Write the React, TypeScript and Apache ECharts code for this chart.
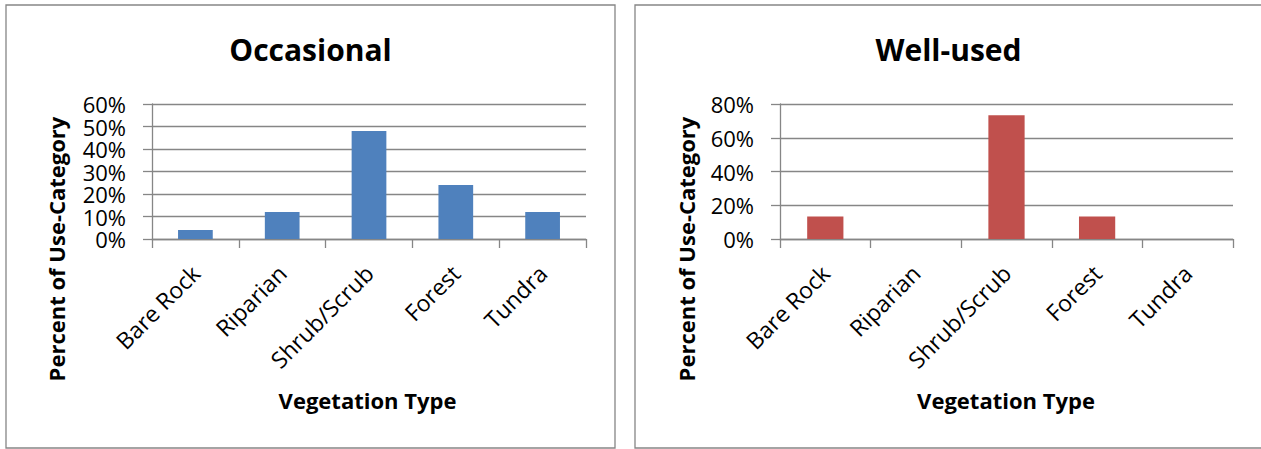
import React, { useEffect, useRef } from "react";
import * as echarts from "echarts";

const categories = ["Bare Rock", "Riparian", "Shrub/Scrub", "Forest", "Tundra"];
const occasionalValues = [4, 12, 48, 24, 12];
const wellUsedValues = [13.3, 0, 73.3, 13.3, 0];
const occasionalTicks = [0, 10, 20, 30, 40, 50, 60];
const wellUsedTicks = [0, 20, 40, 60, 80];
const chartTitles = ["Occasional", "Well-used"];
const xAxisTitle = "Vegetation Type";
const yAxisTitle = "Percent of Use-Category";

const FONT = "'Open Sans', Lato, sans-serif";
const GRAY = "#868686";

function yAxisFor(gridIndex: number, ticks: number[]) {
  return {
    type: "value",
    gridIndex,
    min: ticks[0],
    max: ticks[ticks.length - 1],
    interval: ticks[1] - ticks[0],
    axisLine: { show: true, lineStyle: { color: GRAY, width: 1.3 } },
    axisTick: { show: true, length: 9, lineStyle: { color: GRAY, width: 1.3 } },
    splitLine: { show: true, lineStyle: { color: GRAY, width: 1.3 } },
    axisLabel: {
      formatter: "{value}%",
      margin: 26,
      showMinLabel: true,
      showMaxLabel: true,
      hideOverlap: false,
      fontFamily: FONT,
      fontSize: 22,
      lineHeight: 20,
      color: "#000",
    },
  };
}

function xAxisFor(gridIndex: number) {
  return {
    type: "category",
    gridIndex,
    data: categories,
    axisLine: { show: true, lineStyle: { color: GRAY, width: 1.3 } },
    axisTick: { show: true, length: 9, interval: 0, lineStyle: { color: GRAY, width: 1.3 } },
    axisLabel: {
      interval: 0,
      rotate: 45,
      margin: 30,
      fontFamily: FONT,
      fontSize: 23,
      color: "#000",
    },
  };
}

export default function App() {
  const ref = useRef<HTMLDivElement>(null);
  useEffect(() => {
    document.body.style.margin = "0";
    if (!ref.current) return;
    const chart = echarts.init(ref.current, undefined, { renderer: "svg" });
    const titleStyle = { fontFamily: FONT, fontWeight: "bold", fontSize: 30, fill: "#000" };
    const axisTitleStyle = { fontFamily: FONT, fontWeight: "bold", fontSize: 22, fill: "#000" };
    chart.setOption({
      animation: false,
      backgroundColor: "#fff",
      grid: [
        { left: 152, top: 104, width: 434, height: 135, outerBoundsMode: "none" },
        { left: 780, top: 104, width: 453, height: 135, outerBoundsMode: "none" },
      ],
      xAxis: [xAxisFor(0), xAxisFor(1)],
      yAxis: [yAxisFor(0, occasionalTicks), yAxisFor(1, wellUsedTicks)],
      series: [
        {
          type: "bar",
          xAxisIndex: 0,
          yAxisIndex: 0,
          data: occasionalValues,
          barWidth: "40%",
          itemStyle: { color: "#4F81BD" },
        },
        {
          type: "bar",
          xAxisIndex: 1,
          yAxisIndex: 1,
          data: wellUsedValues,
          barWidth: "40%",
          itemStyle: { color: "#C0504D" },
        },
      ],
      graphic: [
        {
          type: "rect",
          shape: { x: 6, y: 5, width: 609, height: 443 },
          style: { fill: "none", stroke: GRAY, lineWidth: 1.3 },
          silent: true,
        },
        {
          type: "rect",
          shape: { x: 635, y: 5, width: 640, height: 443 },
          style: { fill: "none", stroke: GRAY, lineWidth: 1.3 },
          silent: true,
        },
        {
          type: "text",
          x: 310.5,
          y: 49,
          style: { ...titleStyle, text: chartTitles[0], align: "center", verticalAlign: "middle" },
        },
        {
          type: "text",
          x: 948.5,
          y: 49,
          style: { ...titleStyle, text: chartTitles[1], align: "center", verticalAlign: "middle" },
        },
        {
          type: "text",
          x: 367.5,
          y: 400,
          style: { ...axisTitleStyle, text: xAxisTitle, align: "center", verticalAlign: "middle" },
        },
        {
          type: "text",
          x: 1006,
          y: 400,
          style: { ...axisTitleStyle, text: xAxisTitle, align: "center", verticalAlign: "middle" },
        },
        {
          type: "text",
          x: 55.5,
          y: 249,
          rotation: Math.PI / 2,
          style: { ...axisTitleStyle, text: yAxisTitle, align: "center", verticalAlign: "middle" },
        },
        {
          type: "text",
          x: 685.5,
          y: 249,
          rotation: Math.PI / 2,
          style: { ...axisTitleStyle, text: yAxisTitle, align: "center", verticalAlign: "middle" },
        },
      ],
    });
    return () => chart.dispose();
  }, []);
  return <div ref={ref} style={{ width: 1261, height: 449 }} />;
}
